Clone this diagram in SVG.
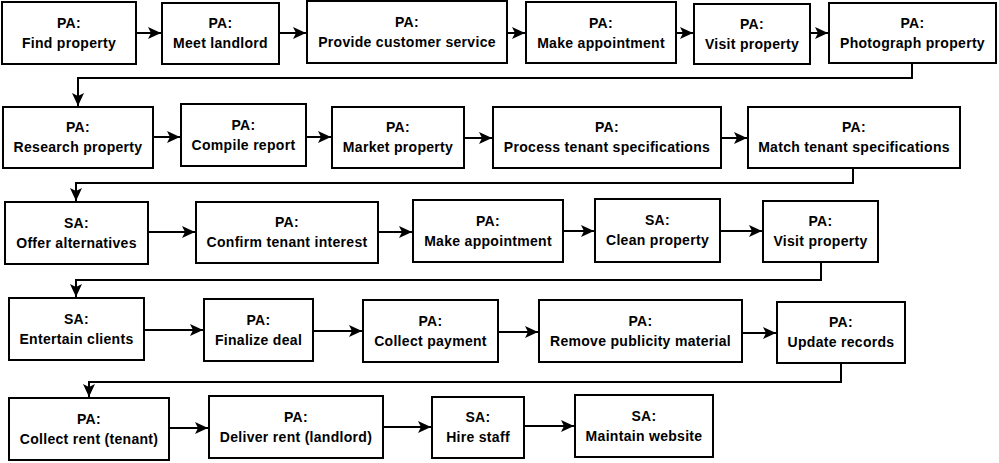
<svg xmlns="http://www.w3.org/2000/svg" width="999" height="463" viewBox="0 0 999 463">
<style>
.box{fill:#fff;stroke:#000;stroke-width:2}
.t{font-family:"Liberation Sans",Arial,sans-serif;font-size:14px;font-weight:bold;fill:#000;text-anchor:middle;letter-spacing:0.3px}
.c{fill:none;stroke:#000;stroke-width:2}
</style>
<defs>
<marker id="ah" markerUnits="userSpaceOnUse" markerWidth="14" markerHeight="12" refX="13" refY="6" orient="auto">
<path d="M0,0 L13,6 L0,12 L3,6 z" fill="#000"/>
</marker>
</defs>
<rect width="999" height="463" fill="#fff"/>
<g id="connectors">
<path class="c" d="M136,33 H161" marker-end="url(#ah)"/>
<path class="c" d="M279,33 H306" marker-end="url(#ah)"/>
<path class="c" d="M507,33 H525" marker-end="url(#ah)"/>
<path class="c" d="M676,33 H693" marker-end="url(#ah)"/>
<path class="c" d="M810,33 H828" marker-end="url(#ah)"/>
<path class="c" d="M912,63 V78 H78 V106" marker-end="url(#ah)"/>
<path class="c" d="M153,137 H180" marker-end="url(#ah)"/>
<path class="c" d="M306,137 H331" marker-end="url(#ah)"/>
<path class="c" d="M464,138 H492" marker-end="url(#ah)"/>
<path class="c" d="M721,138 H747" marker-end="url(#ah)"/>
<path class="c" d="M853,168 V183 H76 V201" marker-end="url(#ah)"/>
<path class="c" d="M148,232 H195" marker-end="url(#ah)"/>
<path class="c" d="M378,232 H412" marker-end="url(#ah)"/>
<path class="c" d="M563,231 H594" marker-end="url(#ah)"/>
<path class="c" d="M720,231 H762" marker-end="url(#ah)"/>
<path class="c" d="M821,262 V280 H76 V297" marker-end="url(#ah)"/>
<path class="c" d="M144,330 H203" marker-end="url(#ah)"/>
<path class="c" d="M313,331 H362" marker-end="url(#ah)"/>
<path class="c" d="M498,332 H538" marker-end="url(#ah)"/>
<path class="c" d="M742,333 H776" marker-end="url(#ah)"/>
<path class="c" d="M841,363 V382 H89 V397" marker-end="url(#ah)"/>
<path class="c" d="M169,428 H208" marker-end="url(#ah)"/>
<path class="c" d="M383,427 H431" marker-end="url(#ah)"/>
<path class="c" d="M524,426 H574" marker-end="url(#ah)"/>
</g>
<g id="n1"><rect class="box" x="2" y="2" width="134" height="62"/><text class="t" x="69" y="28">PA:</text><text class="t" x="69" y="48">Find property</text></g>
<g id="n2"><rect class="box" x="162" y="3" width="117" height="61"/><text class="t" x="220.5" y="28">PA:</text><text class="t" x="220.5" y="48">Meet landlord</text></g>
<g id="n3"><rect class="box" x="307" y="1" width="200" height="62"/><text class="t" x="407" y="27">PA:</text><text class="t" x="407" y="47">Provide customer service</text></g>
<g id="n4"><rect class="box" x="526" y="2" width="150" height="61"/><text class="t" x="601" y="28">PA:</text><text class="t" x="601" y="48">Make appointment</text></g>
<g id="n5"><rect class="box" x="694" y="4" width="116" height="60"/><text class="t" x="752" y="29">PA:</text><text class="t" x="752" y="49">Visit property</text></g>
<g id="n6"><rect class="box" x="829" y="3" width="167" height="60"/><text class="t" x="912.5" y="28">PA:</text><text class="t" x="912.5" y="48">Photograph property</text></g>
<g id="n7"><rect class="box" x="3" y="107" width="150" height="61"/><text class="t" x="78" y="132">PA:</text><text class="t" x="78" y="152">Research property</text></g>
<g id="n8"><rect class="box" x="181" y="104" width="125" height="62"/><text class="t" x="243.5" y="130">PA:</text><text class="t" x="243.5" y="150">Compile report</text></g>
<g id="n9"><rect class="box" x="332" y="107" width="132" height="61"/><text class="t" x="398" y="132">PA:</text><text class="t" x="398" y="152">Market property</text></g>
<g id="n10"><rect class="box" x="493" y="107" width="228" height="61"/><text class="t" x="607" y="132">PA:</text><text class="t" x="607" y="152">Process tenant specifications</text></g>
<g id="n11"><rect class="box" x="748" y="107" width="212" height="61"/><text class="t" x="854" y="132">PA:</text><text class="t" x="854" y="152">Match tenant specifications</text></g>
<g id="n12"><rect class="box" x="5" y="202" width="143" height="62"/><text class="t" x="76.5" y="228">SA:</text><text class="t" x="76.5" y="248">Offer alternatives</text></g>
<g id="n13"><rect class="box" x="196" y="202" width="182" height="61"/><text class="t" x="287" y="227">PA:</text><text class="t" x="287" y="247">Confirm tenant interest</text></g>
<g id="n14"><rect class="box" x="413" y="200" width="150" height="62"/><text class="t" x="488" y="226">PA:</text><text class="t" x="488" y="246">Make appointment</text></g>
<g id="n15"><rect class="box" x="595" y="199" width="125" height="63"/><text class="t" x="657.5" y="225">SA:</text><text class="t" x="657.5" y="245">Clean property</text></g>
<g id="n16"><rect class="box" x="763" y="201" width="115" height="61"/><text class="t" x="820.5" y="226">PA:</text><text class="t" x="820.5" y="246">Visit property</text></g>
<g id="n17"><rect class="box" x="9" y="298" width="135" height="62"/><text class="t" x="76.5" y="324">SA:</text><text class="t" x="76.5" y="344">Entertain clients</text></g>
<g id="n18"><rect class="box" x="204" y="299" width="109" height="62"/><text class="t" x="258.5" y="325">PA:</text><text class="t" x="258.5" y="345">Finalize deal</text></g>
<g id="n19"><rect class="box" x="363" y="300" width="135" height="62"/><text class="t" x="430.5" y="326">PA:</text><text class="t" x="430.5" y="346">Collect payment</text></g>
<g id="n20"><rect class="box" x="539" y="300" width="203" height="62"/><text class="t" x="640.5" y="326">PA:</text><text class="t" x="640.5" y="346">Remove publicity material</text></g>
<g id="n21"><rect class="box" x="777" y="302" width="128" height="61"/><text class="t" x="841" y="327">PA:</text><text class="t" x="841" y="347">Update records</text></g>
<g id="n22"><rect class="box" x="9" y="398" width="160" height="62"/><text class="t" x="89" y="424">PA:</text><text class="t" x="89" y="444">Collect rent (tenant)</text></g>
<g id="n23"><rect class="box" x="209" y="396" width="174" height="62"/><text class="t" x="296" y="422">PA:</text><text class="t" x="296" y="442">Deliver rent (landlord)</text></g>
<g id="n24"><rect class="box" x="432" y="397" width="92" height="61"/><text class="t" x="478" y="422">SA:</text><text class="t" x="478" y="442">Hire staff</text></g>
<g id="n25"><rect class="box" x="575" y="395" width="138" height="62"/><text class="t" x="644" y="421">SA:</text><text class="t" x="644" y="441">Maintain website</text></g>
</svg>
